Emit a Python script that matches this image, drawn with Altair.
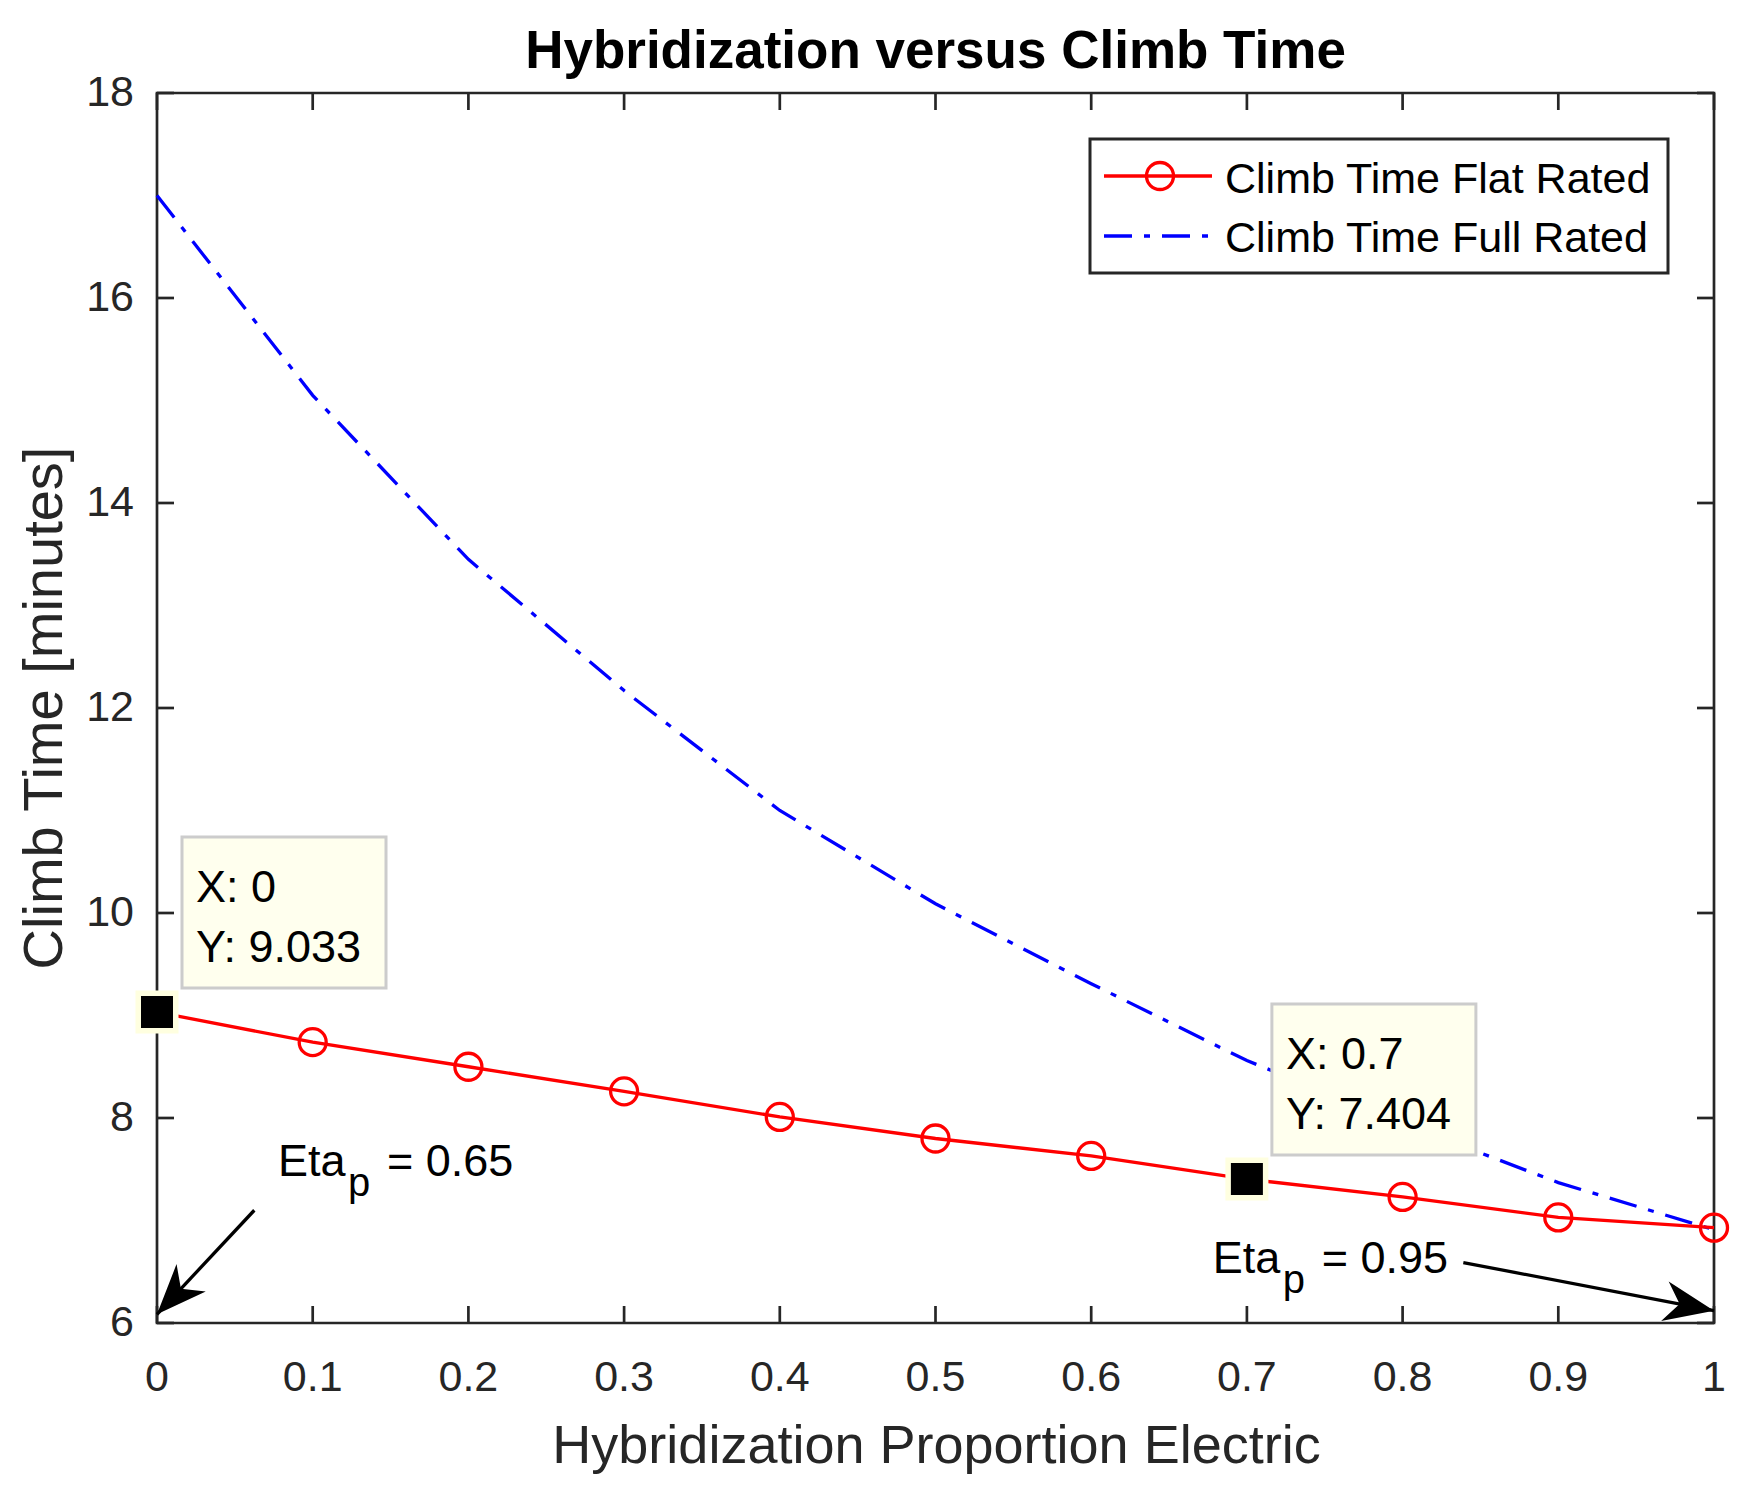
import math
import altair as alt
import pandas as pd

# ---------------- data ----------------
hybridization = [0.0, 0.1, 0.2, 0.3, 0.4, 0.5, 0.6, 0.7, 0.8, 0.9, 1.0]
climb_flat = [9.033, 8.74, 8.50, 8.26, 8.01, 7.80, 7.63, 7.404, 7.23, 7.03, 6.93]
climb_full = [17.00, 15.05, 13.45, 12.17, 11.00, 10.09, 9.31, 8.56, 7.95, 7.37, 6.91]
series_names = ["Climb Time Flat Rated", "Climb Time Full Rated"]

x_ticks = [0, 0.1, 0.2, 0.3, 0.4, 0.5, 0.6, 0.7, 0.8, 0.9, 1]
y_ticks = [6, 8, 10, 12, 14, 16, 18]

datatip_x = [0.0, 0.7]
datatip_y = [9.033, 7.404]

arrow_start_x = [0.0625, 0.839]
arrow_start_y = [7.10, 6.59]
arrow_end_x = [0.0, 1.0]
arrow_end_y = [6.085, 6.12]

eta_x = [0.0777, 0.678]
eta_y = [7.434, 6.491]
eta_main = ["Eta", "Eta"]
eta_sub = ["p", "p"]
eta_rest = ["= 0.65", "= 0.95"]

title_text = "Hybridization versus Climb Time"
x_title = "Hybridization Proportion Electric"
y_title = "Climb Time [minutes]"

# ---------------- layout / style ----------------
W, H = 1557, 1230
X_DOM, Y_DOM = [0, 1], [6, 18]
FONT = "Liberation Sans"
AX = "#262626"
TICK = 17

xs = alt.Scale(domain=X_DOM, nice=False, zero=False)
ys = alt.Scale(domain=Y_DOM, nice=False, zero=False)

one = pd.DataFrame({"k": [0]})
xt = pd.DataFrame({"v": x_ticks, "lab": [f"{v:g}" for v in x_ticks]})
yt = pd.DataFrame({"v": y_ticks, "lab": [f"{v:g}" for v in y_ticks]})
df = pd.DataFrame({"x": hybridization, "flat": climb_flat, "full": climb_full})

dt = pd.DataFrame({"tx": datatip_x, "ty": datatip_y})
dt["lx"] = [f"X: {v:g}" for v in datatip_x]
dt["ly"] = [f"Y: {v:g}" for v in datatip_y]

arr = pd.DataFrame({"x0": arrow_start_x, "y0": arrow_start_y, "x1": arrow_end_x, "y1": arrow_end_y})
px_x = W / (X_DOM[1] - X_DOM[0])
px_y = H / (Y_DOM[1] - Y_DOM[0])
angs = []
for a, b, c, d in zip(arrow_start_x, arrow_start_y, arrow_end_x, arrow_end_y):
    ux = (c - a) * px_x
    uy = -(d - b) * px_y
    angs.append(math.degrees(math.atan2(ux, -uy)) % 360)
arr["ang"] = angs

eta = pd.DataFrame({"ex": eta_x, "ey": eta_y, "m": eta_main, "s": eta_sub, "r": eta_rest})

XQ = lambda f: alt.X(f, scale=xs, axis=None)
YQ = lambda f: alt.Y(f, scale=ys, axis=None)

# ---------------- series ----------------
blue = alt.Chart(df).mark_line(color="#0000FF", strokeWidth=3.3, strokeDash=[28, 12, 6, 12]).encode(
    x=XQ("x:Q"), y=YQ("full:Q"))
red = alt.Chart(df).mark_line(color="#FF0000", strokeWidth=3.3).encode(
    x=XQ("x:Q"), y=YQ("flat:Q"))
red_pts = alt.Chart(df).mark_point(shape="circle", filled=False, color="#FF0000", strokeWidth=3.3,
                                   size=729, opacity=1).encode(x=XQ("x:Q"), y=YQ("flat:Q"))

# ---------------- axes: inward ticks on four sides, labels, titles ----------------
ticks_bottom = alt.Chart(xt).mark_rule(color=AX, strokeWidth=2.7).encode(
    x=XQ("v:Q"), y=alt.value(H), y2=alt.value(H - TICK))
ticks_top = alt.Chart(xt).mark_rule(color=AX, strokeWidth=2.7).encode(
    x=XQ("v:Q"), y=alt.value(0), y2=alt.value(TICK))
ticks_left = alt.Chart(yt).mark_rule(color=AX, strokeWidth=2.7).encode(
    y=YQ("v:Q"), x=alt.value(0), x2=alt.value(TICK))
ticks_right = alt.Chart(yt).mark_rule(color=AX, strokeWidth=2.7).encode(
    y=YQ("v:Q"), x=alt.value(W), x2=alt.value(W - TICK))

x_labels = alt.Chart(xt).mark_text(font=FONT, fontSize=43, color=AX, align="center",
                                   baseline="top").encode(
    x=XQ("v:Q"), y=alt.value(H + 34), text="lab:N")
y_labels = alt.Chart(yt).mark_text(font=FONT, fontSize=43, color=AX, align="right",
                                   baseline="middle").encode(
    y=YQ("v:Q"), x=alt.value(-23), text="lab:N")
x_title_t = alt.Chart(one).mark_text(font=FONT, fontSize=54, color=AX, align="center",
                                     baseline="alphabetic").encode(
    x=alt.value(W / 2 + 1), y=alt.value(H + 140), text=alt.value(x_title))
y_title_t = alt.Chart(one).mark_text(font=FONT, fontSize=56, color=AX,
                                     align="center", baseline="alphabetic", angle=270).encode(
    x=alt.value(-95), y=alt.value(H / 2), text=alt.value(y_title))

# ---------------- datatips ----------------
dtx = XQ("tx:Q")
dty = YQ("ty:Q")
halo = alt.Chart(dt).mark_point(shape="square", filled=True, color="#FFFFE0", size=1849, opacity=1).encode(x=dtx, y=dty)
sq = alt.Chart(dt).mark_point(shape="square", filled=True, color="black", size=1024, opacity=1).encode(x=dtx, y=dty)
box = alt.Chart(dt).mark_rect(fill="#FFFFEE", stroke="#CCCCCC", strokeWidth=3,
                              xOffset=25, x2Offset=229, yOffset=-24, y2Offset=-175).encode(
    x=dtx, x2="tx:Q", y=dty, y2="ty:Q")
tip_x = alt.Chart(dt).mark_text(font=FONT, fontSize=45, color="black", align="left",
                                baseline="alphabetic", dx=39, dy=-110.5).encode(x=dtx, y=dty, text="lx:N")
tip_y = alt.Chart(dt).mark_text(font=FONT, fontSize=45, color="black", align="left",
                                baseline="alphabetic", dx=39, dy=-50).encode(x=dtx, y=dty, text="ly:N")

# ---------------- arrows + Eta_p notes ----------------
ARROW_PATH = "M0,0 L0.8,2 L0,1.4 L-0.8,2 Z"
arrow_line = alt.Chart(arr).mark_rule(color="black", strokeWidth=3.3).encode(
    x=XQ("x0:Q"), y=YQ("y0:Q"), x2="x1:Q", y2="y1:Q")
arrow_head = alt.Chart(arr).mark_point(shape=ARROW_PATH, filled=True, color="black",
                                       size=2500, opacity=1).encode(
    x=XQ("x1:Q"), y=YQ("y1:Q"), angle=alt.Angle("ang:Q", scale=None))

ex = XQ("ex:Q")
ey = YQ("ey:Q")
eta_t1 = alt.Chart(eta).mark_text(font=FONT, fontSize=45, color="black", align="left",
                                  baseline="alphabetic").encode(x=ex, y=ey, text="m:N")
eta_t2 = alt.Chart(eta).mark_text(font=FONT, fontSize=40, color="black", align="left",
                                  baseline="alphabetic", dx=70, dy=20).encode(x=ex, y=ey, text="s:N")
eta_t3 = alt.Chart(eta).mark_text(font=FONT, fontSize=45, color="black", align="left",
                                  baseline="alphabetic", dx=109).encode(x=ex, y=ey, text="r:N")

# ---------------- legend ----------------
leg_box = alt.Chart(one).mark_rect(fill="white", stroke=AX, strokeWidth=3).encode(
    x=alt.value(933), x2=alt.value(1511), y=alt.value(46), y2=alt.value(180))
leg_red = alt.Chart(one).mark_rule(color="#FF0000", strokeWidth=3.3).encode(
    x=alt.value(947), x2=alt.value(1055), y=alt.value(83))
leg_circ = alt.Chart(one).mark_point(shape="circle", filled=False, color="#FF0000", strokeWidth=3.3,
                                     size=729, opacity=1).encode(x=alt.value(1003), y=alt.value(83))
leg_blue = alt.Chart(one).mark_rule(color="#0000FF", strokeWidth=3.3, strokeDash=[28, 12, 6, 12]).encode(
    x=alt.value(947), x2=alt.value(1055), y=alt.value(143))
leg_t1 = alt.Chart(one).mark_text(font=FONT, fontSize=43, color="black", align="left",
                                  baseline="alphabetic").encode(
    x=alt.value(1068), y=alt.value(100), text=alt.value(series_names[0]))
leg_t2 = alt.Chart(one).mark_text(font=FONT, fontSize=43, color="black", align="left",
                                  baseline="alphabetic").encode(
    x=alt.value(1068), y=alt.value(159), text=alt.value(series_names[1]))

chart = alt.layer(
    ticks_bottom, ticks_top, ticks_left, ticks_right,
    x_labels, y_labels, x_title_t, y_title_t,
    blue, red, red_pts,
    halo, sq, box, tip_x, tip_y,
    arrow_line, arrow_head, eta_t1, eta_t2, eta_t3,
    leg_box, leg_red, leg_circ, leg_blue, leg_t1, leg_t2,
).properties(
    width=W, height=H,
    title=alt.TitleParams(text=title_text, font=FONT, fontSize=53, fontWeight="bold",
                          color="black", anchor="middle", frame="group", offset=12, dy=19),
    autosize=alt.AutoSizeParams(type="none"),
    padding={"left": 149, "top": 85, "right": 20, "bottom": 160},
).configure_view(stroke=AX, strokeWidth=2.7)

chart.save("out.html", embed_options={"renderer": "svg", "actions": False})
